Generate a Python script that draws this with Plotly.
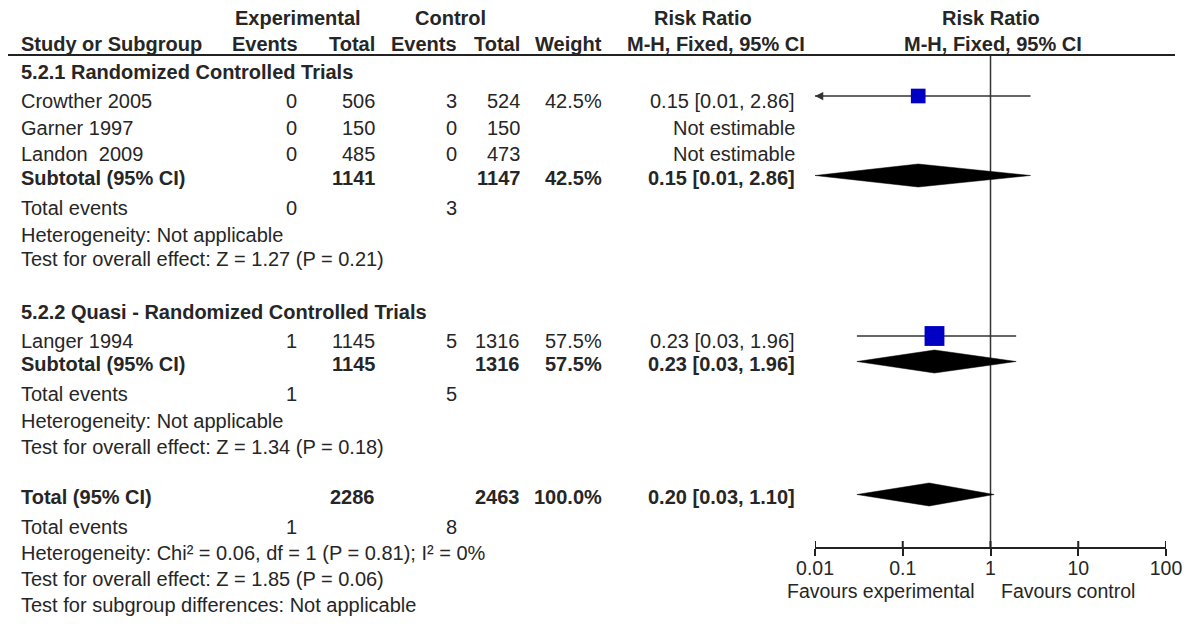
import plotly.graph_objects as go

W, H = 1200, 624

# ---------------- data ----------------
studies = ["Crowther 2005", "Garner 1997", "Landon  2009", "Langer 1994"]
study_group = [0, 0, 0, 1]
exp_events = [0, 0, 0, 1]
exp_total = [506, 150, 485, 1145]
ctrl_events = [3, 0, 0, 5]
ctrl_total = [524, 150, 473, 1316]
weight = [42.5, None, None, 57.5]
rr = [0.15, None, None, 0.23]
rr_lo = [0.01, None, None, 0.03]
rr_hi = [2.86, None, None, 1.96]

groups = ["5.2.1 Randomized Controlled Trials",
          "5.2.2 Quasi - Randomized Controlled Trials"]
grp_exp_total = [1141, 1145]
grp_ctrl_total = [1147, 1316]
grp_exp_events = [0, 1]
grp_ctrl_events = [3, 5]
grp_weight = [42.5, 57.5]
grp_rr = [0.15, 0.23]
grp_lo = [0.01, 0.03]
grp_hi = [2.86, 1.96]
grp_het = ["Heterogeneity: Not applicable", "Heterogeneity: Not applicable"]
grp_test = ["Test for overall effect: Z = 1.27 (P = 0.21)",
            "Test for overall effect: Z = 1.34 (P = 0.18)"]

tot_exp_total = 2286
tot_ctrl_total = 2463
tot_exp_events = 1
tot_ctrl_events = 8
tot_weight = 100.0
tot_rr = 0.20
tot_lo = 0.03
tot_hi = 1.10
tot_het = "Heterogeneity: Chi\u00b2 = 0.06, df = 1 (P = 0.81); I\u00b2 = 0%"
tot_test = "Test for overall effect: Z = 1.85 (P = 0.06)"
subgroup_test = "Test for subgroup differences: Not applicable"

tick_vals = [0.01, 0.1, 1, 10, 100]
tick_text = ["0.01", "0.1", "1", "10", "100"]
axis_left_label = "Favours experimental"
axis_right_label = "Favours control"

# ---------------- layout constants (screen pixels) ----------------
OFF = 8          # default page margin around the plot div
FONT = "Liberation Sans, Arial, sans-serif"
FS = 20
TXT = "#262626"
SQ = "#0000C4"

X_NAME = 19
X_EV_E, X_TOT_E, X_EV_C, X_TOT_C, X_W, X_CI = 299, 377, 459, 522, 604, 797
AX_L, AX_R, AX_Y = 815, 1166, 548
LINE_Y = 55

group_rows = [
    dict(title=72, studies=[101, 128, 154], sub=178, events=208, het=235, test=259),
    dict(title=312, studies=[341], sub=364, events=394, het=421, test=447),
]
TOTAL_Y, TOT_EV_Y, TOT_HET_Y, TOT_TEST_Y, SUBG_Y = 497, 527, 553, 579, 605
STUDY_MARK_DY = -5
DIAMOND_DY = -2.5
DIAMOND_H = 11.5


def px(x):
    return (x - OFF) / W


ann = []


def txt(x, y, s, anchor="left", bold=False, size=FS):
    ann.append(dict(x=px(x), y=y, xref="paper", yref="y",
                    text=("<b>%s</b>" % s) if bold else s,
                    showarrow=False, xanchor=anchor, yanchor="middle",
                    font=dict(family=FONT, size=size, color=TXT)))


def ci_str(a, b, c):
    return "%.2f [%.2f, %.2f]" % (a, b, c)


# headers
txt(297.5, 18, "Experimental", "center", True)
txt(450, 18, "Control", "center", True)
txt(703, 18, "Risk Ratio", "center", True)
txt(991, 18, "Risk Ratio", "center", True)
txt(X_NAME, 44, "Study or Subgroup", "left", True)
txt(300, 44, "Events", "right", True)
txt(X_TOT_E, 44, "Total", "right", True)
txt(X_EV_C, 44, "Events", "right", True)
txt(X_TOT_C, 44, "Total", "right", True)
txt(X_W, 44, "Weight", "right", True)
txt(807, 44, "M-H, Fixed, 95% CI", "right", True)
txt(993, 44, "M-H, Fixed, 95% CI", "center", True)

fig = go.Figure()

study_y = {}
for g, rows in enumerate(group_rows):
    txt(X_NAME, rows["title"], groups[g], "left", True)
    idx = [i for i in range(len(studies)) if study_group[i] == g]
    for i, y in zip(idx, rows["studies"]):
        study_y[i] = y
        txt(X_NAME, y, studies[i])
        txt(X_EV_E, y, str(exp_events[i]), "right")
        txt(X_TOT_E, y, str(exp_total[i]), "right")
        txt(X_EV_C, y, str(ctrl_events[i]), "right")
        txt(X_TOT_C, y, str(ctrl_total[i]), "right")
        if weight[i] is not None:
            txt(X_W, y, "%.1f%%" % weight[i], "right")
            txt(X_CI, y, ci_str(rr[i], rr_lo[i], rr_hi[i]), "right")
        else:
            txt(X_CI, y, "Not estimable", "right")
    ys = rows["sub"]
    txt(X_NAME, ys, "Subtotal (95% CI)", "left", True)
    txt(X_TOT_E, ys, str(grp_exp_total[g]), "right", True)
    txt(X_TOT_C, ys, str(grp_ctrl_total[g]), "right", True)
    txt(X_W, ys, "%.1f%%" % grp_weight[g], "right", True)
    txt(X_CI, ys, ci_str(grp_rr[g], grp_lo[g], grp_hi[g]), "right", True)
    txt(X_NAME, rows["events"], "Total events")
    txt(X_EV_E, rows["events"], str(grp_exp_events[g]), "right")
    txt(X_EV_C, rows["events"], str(grp_ctrl_events[g]), "right")
    txt(X_NAME, rows["het"], grp_het[g])
    txt(X_NAME, rows["test"], grp_test[g])

txt(X_NAME, TOTAL_Y, "Total (95% CI)", "left", True)
txt(X_TOT_E, TOTAL_Y, str(tot_exp_total), "right", True)
txt(X_TOT_C, TOTAL_Y, str(tot_ctrl_total), "right", True)
txt(X_W, TOTAL_Y, "%.1f%%" % tot_weight, "right", True)
txt(X_CI, TOTAL_Y, ci_str(tot_rr, tot_lo, tot_hi), "right", True)
txt(X_NAME, TOT_EV_Y, "Total events")
txt(X_EV_E, TOT_EV_Y, str(tot_exp_events), "right")
txt(X_EV_C, TOT_EV_Y, str(tot_ctrl_events), "right")
txt(X_NAME, TOT_HET_Y, tot_het)
txt(X_NAME, TOT_TEST_Y, tot_test)
txt(X_NAME, SUBG_Y, subgroup_test)

txt(977, 591, axis_left_label, "right", size=19.5)
txt(999, 591, axis_right_label, "left", size=19.5)

# ---------------- forest marks ----------------
xmin = tick_vals[0]
# line of no effect
fig.add_trace(go.Scatter(x=[1, 1], y=[LINE_Y, AX_Y], mode="lines",
                         line=dict(color="#333333", width=1.5), hoverinfo="skip", showlegend=False))

# CI lines + squares
for i in range(len(studies)):
    if rr[i] is None:
        continue
    y = study_y[i] + STUDY_MARK_DY
    lo = max(rr_lo[i], xmin)
    fig.add_trace(go.Scatter(x=[lo, rr_hi[i]], y=[y, y], mode="lines",
                             line=dict(color="#333333", width=1.5), hoverinfo="skip", showlegend=False))
    if rr_lo[i] <= xmin:
        ann.append(dict(x=-2, y=y, xref="x", yref="y", ax=-1.9, ay=y, axref="x", ayref="y",
                        text="", showarrow=True, arrowhead=2, arrowsize=1.1, arrowwidth=1.5,
                        arrowcolor="#333333", standoff=0))
    fig.add_trace(go.Scatter(x=[rr[i]], y=[y], mode="markers",
                             marker=dict(symbol="square", size=0.345 * weight[i], color=SQ,
                                         line=dict(width=0)),
                             hoverinfo="skip", showlegend=False))


def diamond(est, lo, hi, yc):
    fig.add_trace(go.Scatter(x=[lo, est, hi, est, lo],
                             y=[yc, yc - DIAMOND_H, yc, yc + DIAMOND_H, yc],
                             mode="lines", fill="toself", fillcolor="black",
                             line=dict(color="black", width=0.5), hoverinfo="skip", showlegend=False))


for g, rows in enumerate(group_rows):
    diamond(grp_rr[g], grp_lo[g], grp_hi[g], rows["sub"] + DIAMOND_DY)
diamond(tot_rr, tot_lo, tot_hi, TOTAL_Y + DIAMOND_DY)

# upper halves of the axis ticks
for v in tick_vals:
    fig.add_trace(go.Scatter(x=[v, v], y=[AX_Y - 7, AX_Y], mode="lines",
                             line=dict(color="#222222", width=2), hoverinfo="skip",
                             showlegend=False, cliponaxis=False))

fig.update_layout(
    width=W, height=H, autosize=False,
    margin=dict(l=0, r=0, t=0, b=0, pad=0, autoexpand=False),
    paper_bgcolor="white", plot_bgcolor="rgba(0,0,0,0)",
    showlegend=False,
    annotations=ann,
    shapes=[dict(type="line", xref="paper", yref="y", x0=px(5), x1=px(1175),
                 y0=LINE_Y, y1=LINE_Y, line=dict(color="#222222", width=2))],
    xaxis=dict(type="log", range=[-2, 2], domain=[px(AX_L), px(AX_R)],
               anchor="free", position=(H - (AX_Y - OFF)) / H, automargin=False,
               showline=True, linecolor="#222222", linewidth=2,
               ticks="outside", ticklen=7, tickwidth=2, tickcolor="#222222",
               tickvals=tick_vals, ticktext=tick_text, ticklabelstandoff=-4,
               tickfont=dict(family=FONT, size=19.5, color=TXT),
               showgrid=False, zeroline=False, fixedrange=True),
    yaxis=dict(range=[H + OFF, OFF], domain=[0, 1], visible=False, automargin=False,
               fixedrange=True),
)

fig.write_html("out.html")
